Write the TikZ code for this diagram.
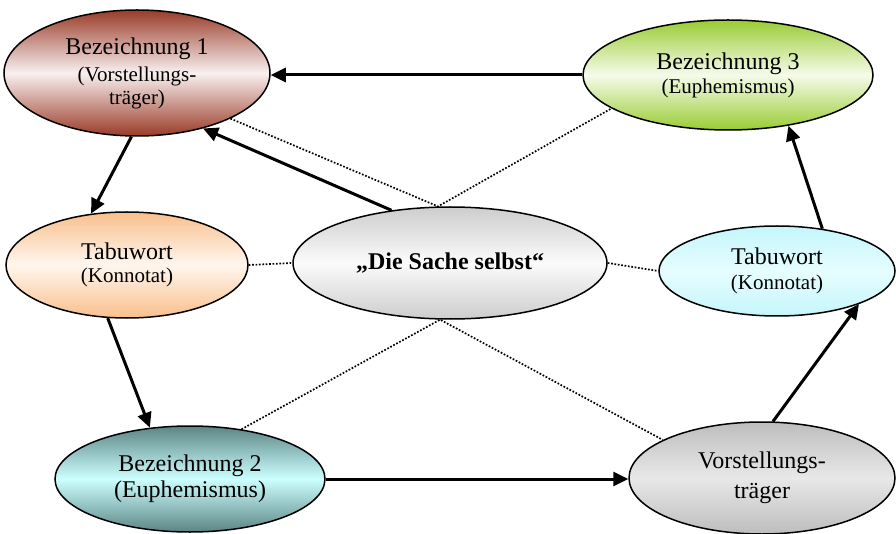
\documentclass[tikz,border=0pt]{standalone}
\usepackage{fontspec}
\setmainfont{Liberation Serif}
\usetikzlibrary{arrows.meta,shapes.geometric}

\definecolor{brick}{HTML}{9A3B28}
\definecolor{brickpale}{HTML}{F8F0F0}
\definecolor{leaf}{HTML}{99CC33}
\definecolor{leafpale}{HTML}{F6FBEA}
\definecolor{peach}{HTML}{F9BF8C}
\definecolor{peachpale}{HTML}{FFF6EE}
\definecolor{ice}{HTML}{C4F6FB}
\definecolor{icepale}{HTML}{E6FDFF}
\definecolor{teal}{HTML}{5C8585}
\definecolor{tealpale}{HTML}{CCFFFF}
\definecolor{stone}{HTML}{BDBDBD}
\definecolor{stonepale}{HTML}{E8E8E8}
\definecolor{fog}{HTML}{CDCDCD}
\definecolor{fogpale}{HTML}{FBFBFB}

\newcommand{\bigtxt}{\fontsize{24}{27}\selectfont}
\newcommand{\subtxt}{\fontsize{21}{23}\selectfont}

\begin{document}
\begin{tikzpicture}[x=1pt, y=-1pt,
  bubble/.style n args={4}{ellipse, draw, line width=1.5pt, inner sep=0pt,
     align=center, font=\bigtxt, minimum width=#3, minimum height=#4,
     top color=#1, bottom color=#1, middle color=#2},
  arr/.style={line width=3pt, -{Triangle[length=15pt,width=14pt]}},
  dots/.style={line width=1.7pt, dash pattern=on 1.7pt off 1.7pt}]
\useasboundingbox (0,0) rectangle (896,534);

% 1. the bubbles
\node[bubble={brick}{brickpale}{266pt}{126pt}] (b1) at (137,73)
  {Bezeichnung 1\\[0pt]\subtxt (Vorstellungs-\\[-4pt]\subtxt träger)};
\node[bubble={leaf}{leafpale}{290pt}{110pt}] (b3) at (728,75)
  {Bezeichnung 3\\[-3pt]\subtxt (Euphemismus)};
\node[bubble={peach}{peachpale}{242pt}{106pt}] (t1) at (127,265)
  {Tabuwort\\[-4pt]\subtxt (Konnotat)};
\node[bubble={fog}{fogpale}{314pt}{112pt}] (c) at (450,263)
  {\bfseries „Die Sache selbst“};
\node[bubble={ice}{icepale}{236pt}{90pt}] (t2) at (777,271)
  {Tabuwort\\[-2pt]\subtxt (Konnotat)};
\node[bubble={teal}{tealpale}{270pt}{106pt}] (b2) at (190,479)
  {Bezeichnung 2\\[-1pt](Euphemismus)};
\node[bubble={stone}{stonepale}{266pt}{112pt}] (v) at (762,478)
  {Vorstellungs-\\[3pt]träger};

% 2. dotted links, all meeting at the middle
\draw[dots] (b1.-26) -- (c.102) -- (b3.196);
\draw[dots] (b2.44) -- (c.-100) -- (v.159);
\draw[dots] (t1.east) -- (c.west);
\draw[dots] (c.east) -- (t2.west);

% 3. the round of arrows
\foreach \from/\to in {b3.west/b3.west -| b1.east, c.138/b1.-40,
                       b1.-95/t1.125, t1.-110/b2.128,
                       b2.east/b2.east -| v.west, v.79/t2.-22, t2.43/b3.-40}
  \draw[arr] (\from) -- (\to);
\end{tikzpicture}
\end{document}
